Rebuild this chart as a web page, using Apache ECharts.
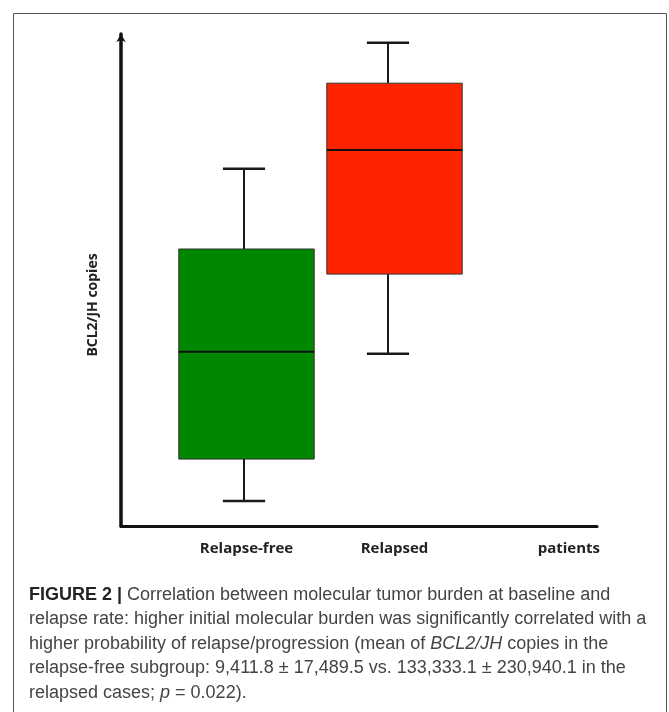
<!DOCTYPE html>
<html><head><meta charset="utf-8">
<script src="https://cdn.jsdelivr.net/npm/echarts@6/dist/echarts.min.js"></script>
<style>html,body{margin:0;padding:0;background:#fff}#c{width:669px;height:712px}</style>
</head><body><div id="c"></div>
<script>
// ---- data ----
const categories = ['Relapse-free', 'Relapsed'];
const whiskerLow  = [5.1, 35.0];
const q1Values    = [13.6, 51.2];
const medians     = [35.4, 76.4];
const q3Values    = [56.3, 90.0];
const whiskerHigh = [72.6, 98.2];
const yAxisTitle = 'BCL2/JH copies';
const xAxisTitle = 'patients';
const captionLines = [
  '{b|FIGURE 2 |} Correlation between molecular tumor burden at baseline and',
  'relapse rate: higher initial molecular burden was significantly correlated with a',
  'higher probability of relapse/progression (mean of {i|BCL2/JH} copies in the',
  'relapse-free subgroup: 9,411.8 \u00b1 17,489.5 vs. 133,333.1 \u00b1 230,940.1 in the',
  'relapsed cases; {i|p} = 0.022).'
];

// ---- styles ----
const boxColors = ['#008700', '#ff2400'];
const whiskerShift = [-2.5, -6.5];

const rows = categories.map((c, i) => [i, whiskerLow[i], q1Values[i], medians[i], q3Values[i], whiskerHigh[i]]);

const chart = echarts.init(document.getElementById('c'));
const capFont = '"Liberation Sans", Arial, sans-serif';
const capSize = 18;
const graphics = [
  { type: 'rect', silent: true, shape: { x: 13.5, y: 13.5, width: 653, height: 730 },
    style: { fill: 'none', stroke: '#555', lineWidth: 1 } }
];
captionLines.forEach((t, i) => {
  graphics.push({
    type: 'text', x: 29, y: 595 + i * 24.5,
    style: {
      text: t, fill: '#444', fontSize: capSize, fontFamily: capFont, verticalAlign: 'middle',
      rich: {
        b: { fontWeight: 'bold', fill: '#222', fontSize: capSize, fontFamily: capFont },
        i: { fontStyle: 'italic', fill: '#444', fontSize: capSize, fontFamily: capFont }
      }
    }
  });
});

chart.setOption({
  animation: false,
  backgroundColor: '#fff',
  grid: [
    { left: 121, right: 72, top: 34, bottom: 186 },
    { left: 172.5, right: 200.5, top: 34, bottom: 186 }
  ],
  xAxis: [
    { gridIndex: 0, type: 'value', min: 0, max: 1,
      axisLine: { show: true, lineStyle: { color: '#111', width: 3 } },
      axisTick: { show: false }, axisLabel: { show: false }, splitLine: { show: false },
      name: xAxisTitle, nameLocation: 'end', nameGap: 3,
      nameTextStyle: { align: 'right', verticalAlign: 'top', padding: [15, 0, 0, 0],
        fontSize: 15, fontWeight: 'bold', color: '#222', fontFamily: '"Open Sans", sans-serif' } },
    { gridIndex: 1, type: 'category', data: categories,
      axisLine: { show: false }, axisTick: { show: false }, splitLine: { show: false },
      axisLabel: { margin: 15, fontSize: 15, fontWeight: 'bold', color: '#222', fontFamily: '"Open Sans", sans-serif' } }
  ],
  yAxis: [
    { gridIndex: 0, type: 'value', min: 0, max: 100,
      axisLine: { show: true, symbol: ['none', 'arrow'], symbolSize: [7, 8], lineStyle: { color: '#111', width: 3.5 } },
      axisTick: { show: false }, axisLabel: { show: false }, splitLine: { show: false },
      name: yAxisTitle, nameLocation: 'middle', nameRotate: 90, nameGap: 21,
      nameTextStyle: { fontSize: 14, fontWeight: 'bold', color: '#222', fontFamily: '"Open Sans", sans-serif', padding: [0, 50, 0, 0] } },
    { gridIndex: 1, type: 'value', min: 0, max: 100, show: false }
  ],
  graphic: graphics,
  series: [{
    type: 'custom', xAxisIndex: 1, yAxisIndex: 1,
    data: rows,
    renderItem: function (params, api) {
      const ci = api.value(0);
      const lo = api.coord([ci, api.value(1)]);
      const b1 = api.coord([ci, api.value(2)]);
      const md = api.coord([ci, api.value(3)]);
      const b3 = api.coord([ci, api.value(4)]);
      const hi = api.coord([ci, api.value(5)]);
      const band = api.size([1, 0])[0];
      const bw = band * 0.915, cw = band * 0.285;
      const cx = lo[0];
      const wx = cx + whiskerShift[params.dataIndex];
      const ls = { stroke: '#1a1a1a', lineWidth: 2 };
      return { type: 'group', children: [
        { type: 'line', shape: { x1: wx, y1: hi[1], x2: wx, y2: b3[1] }, style: ls },
        { type: 'line', shape: { x1: wx, y1: b1[1], x2: wx, y2: lo[1] }, style: ls },
        { type: 'line', shape: { x1: wx - cw / 2, y1: hi[1], x2: wx + cw / 2, y2: hi[1] }, style: { stroke: '#1a1a1a', lineWidth: 2.5 } },
        { type: 'line', shape: { x1: wx - cw / 2, y1: lo[1], x2: wx + cw / 2, y2: lo[1] }, style: { stroke: '#1a1a1a', lineWidth: 2.5 } },
        { type: 'rect', shape: { x: cx - bw / 2, y: b3[1], width: bw, height: b1[1] - b3[1] },
          style: { fill: boxColors[params.dataIndex], stroke: '#333', lineWidth: 1 } },
        { type: 'line', shape: { x1: cx - bw / 2, y1: md[1], x2: cx + bw / 2, y2: md[1] }, style: { stroke: '#111', lineWidth: 2 } }
      ] };
    }
  }]
});
</script></body></html>
